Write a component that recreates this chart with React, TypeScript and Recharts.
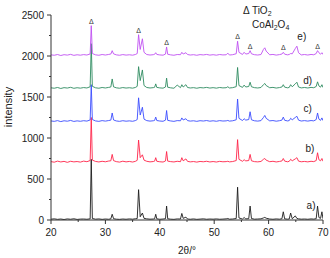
import React from 'react';
import { LineChart, Line, XAxis, YAxis, ReferenceDot, Customized } from 'recharts';

const twoTheta = [
  20, 20.6, 21.2, 21.8, 22.4, 23.0, 23.6, 24.2, 24.8, 25.4,
  26.0, 26.6, 27.2, 27.4, 27.6, 28.2, 28.8, 29.4, 30.0, 30.6,
  31.0, 31.25, 31.5, 32.0, 32.6, 33.2, 33.8, 34.4, 35.0, 35.5,
  35.85, 36.1, 36.4, 36.8, 37.1, 37.6, 38.2, 38.8, 39.05, 39.25,
  39.45, 40.0, 40.6, 41.05, 41.25, 41.45, 42.0, 42.6, 43.2, 43.8,
  44.05, 44.3, 44.8, 45.1, 45.6, 46.2, 46.8, 47.4, 48.0, 48.6,
  49.2, 49.8, 50.4, 51.0, 51.6, 52.2, 52.5, 52.8, 53.4, 54.05,
  54.3, 54.55, 55.2, 55.5, 55.8, 56.35, 56.6, 56.85, 57.4, 58.0,
  58.6, 59.05, 59.3, 59.55, 60.2, 60.8, 61.4, 62.0, 62.45, 62.7,
  62.95, 63.5, 63.8, 64.05, 64.35, 64.9, 65.2, 65.5, 66.0, 66.6,
  67.2, 67.8, 68.3, 68.75, 69.0, 69.25, 69.55, 69.8, 70.0,
];

const seriesA = [
  10, 14, 8, 12, 6, 13, 9, 15, 7, 11,
  12, 9, 14, 740, 18, 10, 13, 8, 12, 9,
  14, 70, 16, 10, 8, 12, 9, 13, 10, 15,
  18, 370, 40, 85, 20, 14, 10, 12, 15, 70,
  14, 9, 12, 16, 170, 15, 10, 8, 13, 12,
  80, 20, 35, 12, 9, 13, 8, 11, 14, 9,
  12, 10, 13, 9, 11, 14, 18, 10, 12, 18,
  400, 25, 12, 30, 14, 16, 170, 18, 10, 12,
  14, 25, 32, 22, 12, 9, 13, 10, 15, 100,
  14, 10, 13, 85, 15, 50, 20, 14, 10, 12,
  9, 13, 11, 16, 170, 30, 20, 100, 15,
];

const seriesB = [
  712, 705, 718, 708, 715, 703, 716, 709, 713, 706,
  718, 711, 725, 1250, 730, 714, 708, 716, 710, 719,
  722, 800, 724, 712, 706, 717, 709, 714, 707, 715,
  728, 975, 760, 795, 730, 716, 709, 713, 718, 760,
  716, 710, 707, 720, 835, 718, 712, 708, 716, 711,
  760, 722, 745, 715, 709, 713, 706, 714, 710, 716,
  708, 713, 707, 715, 710, 712, 716, 709, 713, 725,
  980, 740, 716, 735, 721, 725, 800, 722, 712, 709,
  714, 740, 750, 730, 711, 716, 708, 714, 720, 750,
  718, 710, 716, 740, 722, 745, 760, 718, 710, 714,
  709, 716, 712, 725, 820, 735, 722, 750, 716,
];

const seriesC = [
  1208, 1203, 1212, 1200, 1210, 1205, 1214, 1202, 1209, 1204,
  1211, 1206, 1220, 1650, 1225, 1208, 1203, 1212, 1206, 1213,
  1218, 1305, 1220, 1208, 1203, 1211, 1205, 1209, 1204, 1212,
  1225, 1490, 1280, 1375, 1230, 1212, 1206, 1210, 1215, 1255,
  1213, 1207, 1204, 1218, 1335, 1215, 1208, 1203, 1212, 1210,
  1245, 1220, 1235, 1212, 1206, 1210, 1203, 1211, 1207, 1213,
  1205, 1210, 1204, 1212, 1207, 1209, 1214, 1206, 1210, 1222,
  1475, 1240, 1213, 1235, 1218, 1225, 1320, 1222, 1210, 1206,
  1212, 1250, 1275, 1240, 1209, 1213, 1205, 1211, 1218, 1255,
  1216, 1208, 1213, 1240, 1222, 1250, 1265, 1218, 1207, 1212,
  1206, 1213, 1209, 1225, 1305, 1230, 1215, 1245, 1212,
];

const seriesD = [
  1612, 1607, 1616, 1604, 1614, 1609, 1618, 1606, 1613, 1608,
  1615, 1610, 1625, 2150, 1630, 1612, 1607, 1616, 1610, 1617,
  1622, 1720, 1624, 1612, 1607, 1615, 1609, 1613, 1608, 1616,
  1630, 1870, 1700, 1830, 1640, 1616, 1610, 1614, 1619, 1660,
  1617, 1611, 1608, 1622, 1730, 1619, 1612, 1607, 1645, 1614,
  1650, 1622, 1650, 1616, 1610, 1614, 1607, 1615, 1611, 1617,
  1609, 1614, 1608, 1616, 1611, 1613, 1625, 1610, 1614, 1626,
  1860, 1640, 1617, 1645, 1622, 1628, 1680, 1625, 1614, 1610,
  1616, 1650, 1665, 1640, 1613, 1617, 1609, 1615, 1622, 1650,
  1620, 1612, 1617, 1650, 1625, 1660, 1680, 1622, 1611, 1616,
  1610, 1617, 1613, 1628, 1685, 1635, 1620, 1650, 1616,
];

const seriesE = [
  2014, 2009, 2018, 2006, 2016, 2011, 2020, 2008, 2015, 2010,
  2017, 2012, 2025, 2370, 2030, 2014, 2009, 2018, 2012, 2019,
  2024, 2065, 2026, 2014, 2009, 2017, 2011, 2015, 2010, 2018,
  2030, 2260, 2080, 2210, 2045, 2018, 2012, 2016, 2021, 2040,
  2019, 2013, 2010, 2024, 2110, 2021, 2014, 2009, 2018, 2016,
  2045, 2024, 2040, 2018, 2012, 2016, 2009, 2017, 2013, 2019,
  2011, 2016, 2010, 2018, 2013, 2015, 2035, 2012, 2016, 2028,
  2180, 2045, 2019, 2045, 2024, 2030, 2065, 2027, 2016, 2012,
  2018, 2080, 2100, 2060, 2015, 2019, 2011, 2017, 2024, 2045,
  2022, 2014, 2019, 2030, 2027, 2090, 2120, 2040, 2013, 2018,
  2012, 2019, 2015, 2030, 2065, 2040, 2022, 2040, 2018,
];

const seriesKeys = ['a', 'b', 'c', 'd', 'e'];
const seriesNames = ['a)', 'b)', 'c)', 'd)', 'e)'];
const seriesColors = ['#1c1c1c', '#ff2448', '#3a4cff', '#2e8b60', '#c050f2'];
const labelTheta = [67.8, 67.6, 67.2, 67.2, 66.1];
const labelIntensity = [183, 878, 1366, 1707, 2244];
const tiO2Peaks = [27.4, 36.1, 41.25, 54.3, 56.6, 62.7, 69.0];
const yTicks = [0, 250, 500, 750, 1000, 1250, 1500, 1750, 2000, 2250, 2500];
const xTicks = [20, 25, 30, 35, 40, 45, 50, 55, 60, 65, 70];

const allSeries = [seriesA, seriesB, seriesC, seriesD, seriesE];
const data = twoTheta.map((t, i) => {
  const row: Record<string, number> = { t };
  seriesKeys.forEach((k, s) => {
    row[k] = allSeries[s][i];
  });
  return row;
});

const FONT = '"Liberation Sans", Arial, sans-serif';
const AXIS = '#333';
const TEXT = '#222';

const YTick = (props: any) => {
  const { x, y, payload } = props;
  const major = payload.value % 500 === 0;
  return (
    <g>
      <line x1={x - (major ? 4 : 2)} x2={x} y1={y} y2={y} stroke={AXIS} strokeWidth={1} />
      {major && (
        <text x={x - 7} y={y} dy="0.35em" textAnchor="end" fontSize={10} fill={TEXT} fontFamily={FONT}>
          {payload.value}
        </text>
      )}
    </g>
  );
};

const XTick = (props: any) => {
  const { x, y, payload } = props;
  const major = payload.value % 10 === 0;
  return (
    <g>
      <line x1={x} x2={x} y1={y} y2={y + (major ? 4 : 2)} stroke={AXIS} strokeWidth={1} />
      {major && (
        <text x={x} y={y + 12} dy="0.35em" textAnchor="middle" fontSize={10} fill={TEXT} fontFamily={FONT}>
          {payload.value}
        </text>
      )}
    </g>
  );
};

const Annotations = () => (
  <g fontFamily={FONT} fill={TEXT}>
    <text x={243} y={14} fontSize={10}>
      Δ TiO<tspan fontSize={7} dy={2}>2</tspan>
    </text>
    <text x={252} y={28} fontSize={10}>
      CoAl<tspan fontSize={7} dy={2}>2</tspan>
      <tspan fontSize={10} dy={-2}>O</tspan>
      <tspan fontSize={7} dy={2}>4</tspan>
    </text>
    <text x={8} y={107} transform="rotate(-90 8 107)" textAnchor="middle" dy="0.35em" fontSize={11}>
      intensity
    </text>
    <text x={187} y={250} textAnchor="middle" dy="0.35em" fontSize={10}>
      2θ/°
    </text>
  </g>
);

const peakValue = (t: number) => {
  const i = twoTheta.indexOf(t);
  return seriesE[i];
};

export default function App() {
  return (
    <div style={{ position: 'absolute', left: 0, top: 0, width: 330, height: 258, background: '#fff' }}>
      <LineChart width={330} height={258} data={data} margin={{ top: 15, right: 7, bottom: 0, left: 0 }}>
        <XAxis
          dataKey="t"
          type="number"
          domain={[20, 70]}
          ticks={xTicks}
          interval={0}
          height={38}
          tickSize={0}
          tickMargin={0}
          tickLine={false}
          tick={<XTick />}
          axisLine={{ stroke: AXIS, strokeWidth: 1 }}
          allowDataOverflow
        />
        <YAxis
          type="number"
          domain={[0, 2500]}
          ticks={yTicks}
          interval={0}
          width={51}
          tickSize={0}
          tickMargin={0}
          tickLine={false}
          tick={<YTick />}
          axisLine={{ stroke: AXIS, strokeWidth: 1 }}
          allowDataOverflow
        />
        {seriesKeys.map((k, s) => (
          <Line
            key={k}
            dataKey={k}
            type="linear"
            stroke={seriesColors[s]}
            strokeWidth={0.9}
            dot={false}
            isAnimationActive={false}
          />
        ))}
        {tiO2Peaks.map((t) => (
          <ReferenceDot
            key={'p' + t}
            x={t}
            y={peakValue(t)}
            r={0}
            fill="none"
            stroke="none"
            label={{ value: 'Δ', position: 'top', offset: 2, fontSize: 7, fill: '#333', fontFamily: FONT }}
          />
        ))}
        {seriesNames.map((n, s) => (
          <ReferenceDot
            key={n}
            x={labelTheta[s]}
            y={labelIntensity[s]}
            r={0}
            fill="none"
            stroke="none"
            label={{ value: n, position: 'center', fontSize: 10, fill: TEXT, fontFamily: FONT }}
          />
        ))}
        <Customized component={Annotations} />
      </LineChart>
    </div>
  );
}
